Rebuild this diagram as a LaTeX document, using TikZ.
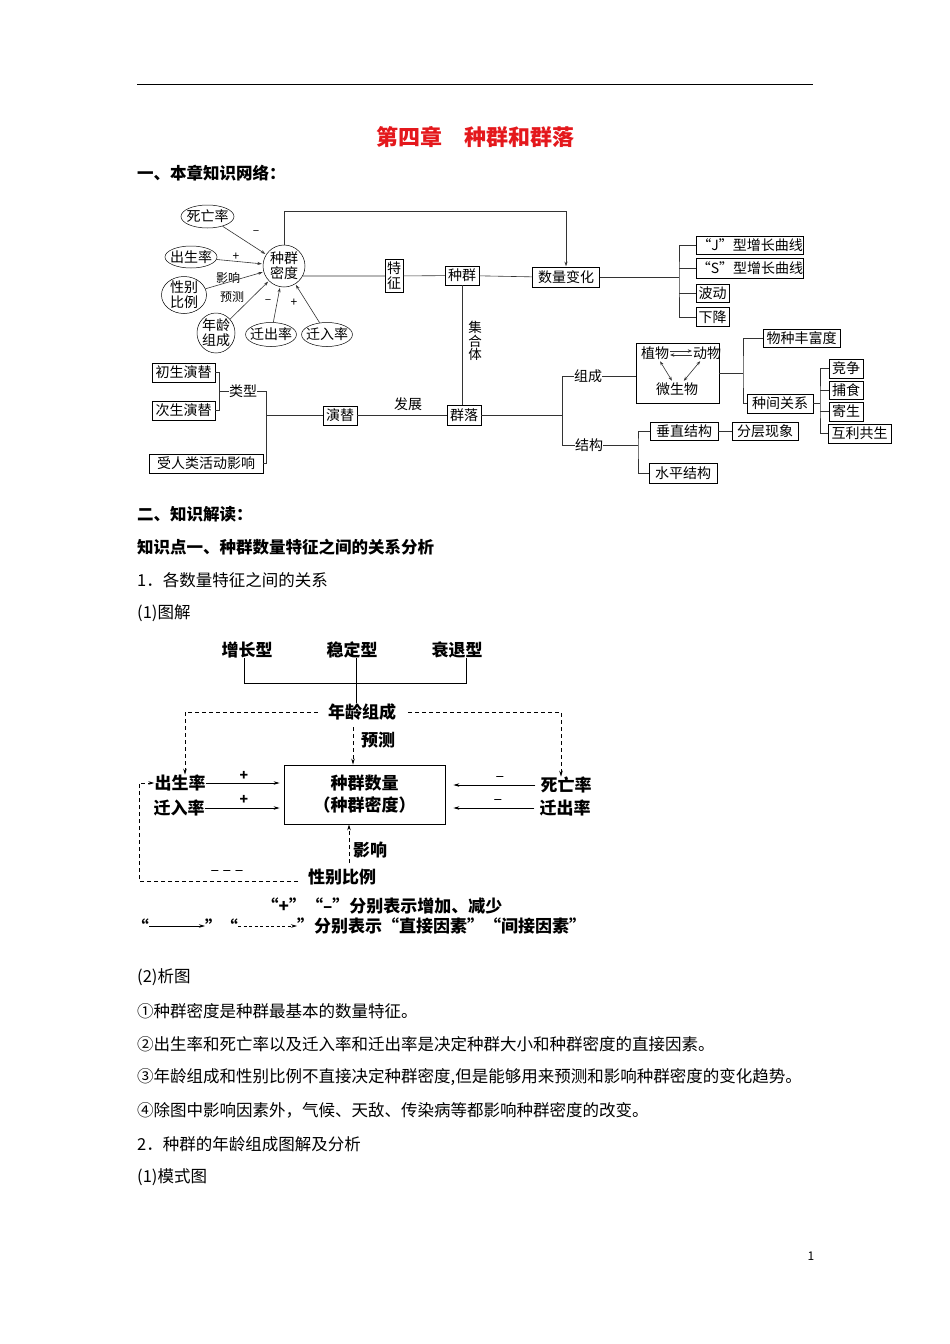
\documentclass[tikz,border=0pt]{standalone}
\usepackage{fontspec}
\setmainfont{Noto Sans CJK SC}
\usetikzlibrary{arrows.meta,shapes.geometric}
\newcommand\fsz[1]{\fontsize{#1}{#1}\selectfont}
\definecolor{titlered}{RGB}{228,24,28}
\begin{document}
\begin{tikzpicture}[x=1pt,y=-1pt,
  ell/.style={draw, ellipse, line width=0.5pt, inner xsep=-3pt, inner ysep=-2pt, font=\fsz{14}},
  bx/.style={draw, rectangle, line width=0.5pt, inner sep=0pt, font=\fsz{14}},
  lab/.style={inner sep=0pt, font=\fsz{14}},
  sm/.style={inner sep=0pt, font=\fsz{12}},
  ln/.style={line width=0.6pt, draw=black!80},
  ar/.style={ln, -{Stealth[length=4.5pt,width=3pt]}, shorten >=1pt},
  dar/.style={ln, {Stealth[length=4pt,width=3pt]}-{Stealth[length=4pt,width=3pt]}, shorten <=2pt, shorten >=2pt},
  para/.style={anchor=west, inner sep=0pt, font=\fsz{16.5}},
  head/.style={anchor=west, inner sep=0pt, font=\fsz{16.5}\bfseries},
  t2/.style={inner sep=0pt, font=\fsz{17}\bfseries},
  l2/.style={line width=0.8pt},
  a2/.style={l2, -{Stealth[length=6pt,width=3.5pt]}},
  d2/.style={l2, dash pattern=on 4pt off 3pt},
  da2/.style={d2, -{Stealth[length=6pt,width=3.5pt]}},
]
\useasboundingbox (0,0) rectangle (950,1344);
\fill[white] (0,0) rectangle (950,1344);
\draw[line width=0.8pt] (137,84) -- (813,84);
\node[inner sep=0pt, font=\fsz{22}\bfseries, text=titlered] (title) at (475.5,137) {第四章\hspace{1em}种群和群落};
\node[head] (h1) at (137,173) {一、本章知识网络：};

% ---------- top knowledge network ----------
\node[ell, minimum width=53, minimum height=23] (sw) at (207.5,216.5) {死亡率};
\node[ell, minimum width=52, minimum height=22] (csr) at (191,257) {出生率};
\node[ell, minimum width=45, minimum height=37, align=center, font=\fontsize{14}{15}\selectfont] (xb) at (184,295) {性别\\比例};
\node[ell, minimum width=38, minimum height=40, align=center, font=\fontsize{14}{15}\selectfont] (nl) at (216,333) {年龄\\组成};
\node[ell, minimum width=49, minimum height=24] (qc) at (271,334.5) {迁出率};
\node[ell, minimum width=49, minimum height=24] (qr) at (327,334.5) {迁入率};
\node[draw, circle, line width=0.5pt, inner sep=-1pt, minimum size=42, align=center, font=\fontsize{14}{15}\selectfont] (md) at (284,266) {种群\\密度};
\draw[ar] (sw) -- (md);
\draw[ar] (csr) -- (md);
\draw[ar] (xb) -- (md);
\draw[ar] (nl) -- (md);
\draw[ar] (qc) -- (md);
\draw[ar] (qr) -- (md);
\node[sm] (lm1) at (256,233) {–};
\node[sm] (lp1) at (236,257) {+};
\node[sm] (lyx) at (228,278) {影响};
\node[sm] (lyc) at (232,297) {预测};
\node[sm] (lm2) at (268,302) {–};
\node[sm] (lp2) at (294,303) {+};

\node[bx, minimum width=18, minimum height=33, align=center, font=\fontsize{14}{15}\selectfont] (tz) at (394,276) {特\\征};
\node[bx, minimum width=34, minimum height=19] (zq) at (462,275.5) {种群};
\node[bx, minimum width=67, minimum height=20] (sl) at (566,277.5) {数量变化};
\draw[ln] (md.-28) -- (tz);
\draw[ln] (tz) -- (zq);
\draw[ln] (zq) -- (sl);
\draw[ar] (md.north) -- ++(0,-33) -| (sl.north);

\node[bx, minimum width=107, minimum height=18] (jx) at (750,245.5) {“J”型增长曲线};
\node[bx, minimum width=107, minimum height=20] (sx) at (750,268.5) {“S”型增长曲线};
\node[bx, minimum width=33, minimum height=18] (bd) at (712.5,293) {波动};
\node[bx, minimum width=33, minimum height=19] (xj) at (712.5,317) {下降};
\coordinate (b1) at (679,277.5);
\draw[ln] (sl) -- (b1);
\draw[ln] (jx.west) -| (b1) |- (xj.west);
\draw[ln] (b1 |- sx.west) -- (sx.west);
\draw[ln] (b1 |- bd.west) -- (bd.west);

\node[lab, align=center, font=\fontsize{13.5}{13.5}\selectfont] (jht) at (475,341) {集\\合\\体};
\node[bx, minimum width=34, minimum height=20] (ql) at (464,415.5) {群落};
\coordinate (vz) at (462,300);
\draw[ln] (vz |- zq.south) -- (vz |- ql.north);
\node[bx, minimum width=34, minimum height=19] (yt) at (340,415.5) {演替};
\draw[ln] (yt) -- (ql);
\node[lab] (fz) at (408,404) {发展};
\node[bx, minimum width=63, minimum height=19] (cs1) at (183.5,372.5) {初生演替};
\node[bx, minimum width=63, minimum height=19] (cs2) at (183.5,410.5) {次生演替};
\node[bx, minimum width=114, minimum height=19] (sr) at (206,463.5) {受人类活动影响};
\draw[ln] (cs1.east) -- ++(4,0) |- (cs2.east);
\node[lab] (lx) at (243,391) {类型};
\coordinate (lb) at (219,391);
\draw[ln] (lb) -- (lx.west);
\coordinate (v1) at (266,391);
\draw[ln] (lx.east) -- (v1) -- (v1 |- sr.east) -- (sr.east);
\draw[ln] (v1 |- yt.west) -- (yt.west);

\coordinate (rb) at (562,415.5);
\draw[ln] (ql) -- (rb);
\node[lab] (zc) at (588,376) {组成};
\node[lab] (jg) at (589,445) {结构};
\draw[ln] (zc.west) -- (zc.west -| rb) -- (jg.west -| rb) -- (jg.west);
\node[bx, minimum width=83, minimum height=60] (zcb) at (677.5,373) {};
\draw[ln] (zc.east) -- (zc.east -| zcb.west);
\node[lab] (zw) at (655,353) {植物};
\node[lab] (dw) at (707,353) {动物};
\node[lab] (ws) at (677,389) {微生物};
\draw[ln, -{Stealth[length=4pt,width=3.5pt]}, shorten <=1pt, shorten >=1pt] ([yshift=2pt]zw.east) -- ([yshift=2pt]dw.west);
\draw[ln, {Stealth[length=4pt,width=3.5pt]}-, shorten <=1pt, shorten >=1pt] ([yshift=-2pt]zw.east) -- ([yshift=-2pt]dw.west);
\draw[dar] (zw) -- (ws);
\draw[dar] (dw) -- (ws);
\coordinate (rb2) at (743,373);
\draw[ln] (zcb.east) -- (rb2);
\node[bx, minimum width=77, minimum height=18] (wz) at (801.5,338) {物种丰富度};
\node[bx, minimum width=66, minimum height=19] (zj) at (780,403.5) {种间关系};
\draw[ln] (wz.west) -| (rb2) |- (zj.west);
\coordinate (rb3) at (820,403.5);
\draw[ln] (zj.east) -- (rb3);
\node[bx, minimum width=34, minimum height=19] (jz) at (846,368.5) {竞争};
\node[bx, minimum width=34, minimum height=18] (bs) at (846,390) {捕食};
\node[bx, minimum width=34, minimum height=19] (jsh) at (846,411.5) {寄生};
\node[bx, minimum width=63, minimum height=19] (hl) at (859.5,433.5) {互利共生};
\draw[ln] (jz.west) -| (rb3) |- (hl.west);
\draw[ln] (rb3 |- bs.west) -- (bs.west);
\draw[ln] (rb3 |- jsh.west) -- (jsh.west);
\coordinate (rb4) at (638,445);
\draw[ln] (jg.east) -- (rb4);
\node[bx, minimum width=68, minimum height=18] (cz) at (684,431) {垂直结构};
\node[bx, minimum width=66, minimum height=18] (fc) at (765,431) {分层现象};
\node[bx, minimum width=68, minimum height=20] (sp) at (683,473) {水平结构};
\draw[ln] (cz.west) -| (rb4) |- (sp.west);
\draw[ln] (cz) -- (fc);

% ---------- text ----------
\node[head] (h2) at (137,514) {二、知识解读：};
\node[head] (h3) at (137,547) {知识点一、种群数量特征之间的关系分析};
\node[para] (p1) at (137,580) {1．各数量特征之间的关系};
\node[para] (p2) at (137,613) {(1)图解};

% ---------- second diagram ----------
\node[t2] (zz) at (247,650) {增长型};
\node[t2] (wd) at (352,650) {稳定型};
\node[t2] (sh) at (457,650) {衰退型};
\coordinate (bl) at (244,683);
\coordinate (br) at (466,683);
\coordinate (bm) at (356,683);
\node[t2] (nlz) at (362,712) {年龄组成};
\draw[l2] (bl |- zz.south) -- (bl) -- (br) -- (br |- sh.south);
\draw[l2] (bm |- wd.south) -- (bm |- nlz.north);
\coordinate (dl) at (185,712);
\coordinate (dr) at (561,712);
\node[t2] (csl) at (180,783) {出生率};
\node[t2] (qrl) at (179,808) {迁入率};
\node[t2] (swl) at (566,785) {死亡率};
\node[t2] (qcl) at (565,808) {迁出率};
\draw[da2] ([xshift=-10pt]nlz.west) -- (dl) -- (dl |- csl.north);
\draw[da2] ([xshift=12pt]nlz.east) -- (dr) -- (dr |- swl.north);
\node[draw, line width=0.8pt, inner sep=0pt, minimum width=161, minimum height=59, align=center, font=\fontsize{17}{22}\bfseries\selectfont] (zs) at (364.5,794.5) {种群数量\\（种群密度）};
\coordinate (pc) at (353,727);
\draw[da2] (pc) -- (pc |- zs.north);
\node[t2] (yc) at (378,740) {预测};
\draw[a2, shorten >=4pt] (csl.east) -- (csl.east -| zs.west);
\draw[a2, shorten >=4pt] (qrl.east) -- (qrl.east -| zs.west);
\node[inner sep=0pt, font=\fsz{14}\bfseries] (pl1) at (244,776) {+};
\node[inner sep=0pt, font=\fsz{14}\bfseries] (pl2) at (244,800) {+};
\draw[a2, shorten <=5pt, shorten >=8pt] (swl.west) -- (swl.west -| zs.east);
\draw[a2, shorten <=5pt, shorten >=8pt] (qcl.west) -- (qcl.west -| zs.east);
\node[inner sep=0pt, font=\fsz{16}] (mn1) at (500,779) {–};
\node[inner sep=0pt, font=\fsz{16}] (mn2) at (498,802) {–};
\node[t2] (xbl) at (342,877) {性别比例};
\coordinate (xs) at (298,881);
\coordinate (lp) at (139,881);
\draw[da2] (xs) -- (lp) -- (lp |- csl.west) -- (csl.west);
\node[inner sep=0pt, font=\fsz{16}] (mm) at (227,873) {– – –};
\coordinate (yxc) at (349,863);
\draw[da2] (yxc) -- (yxc |- zs.south);
\node[t2] (yxl) at (370,850) {影响};
\node[t2] (lg1) at (382,906) {“+”“–”分别表示增加、减少};
\node[t2, anchor=east] (q1) at (149,926) {“};
\node[t2, anchor=west] (q2) at (205,926) {”};
\draw[a2] (q1.east) -- (q2.west);
\node[t2, anchor=east] (q3) at (238,926) {“};
\node[t2, anchor=west] (lg2) at (297,926) {”分别表示“直接因素”“间接因素”};
\draw[da2, dash pattern=on 3pt off 2.5pt] (q3.east) -- (lg2.west);

% ---------- text ----------
\node[para] (p3) at (137,977) {(2)析图};
\node[para] (p4) at (137,1011) {①种群密度是种群最基本的数量特征。};
\node[para] (p5) at (137,1044) {②出生率和死亡率以及迁入率和迁出率是决定种群大小和种群密度的直接因素。};
\node[para] (p6) at (137,1077) {③年龄组成和性别比例不直接决定种群密度,但是能够用来预测和影响种群密度的变化趋势。};
\node[para] (p7) at (137,1110) {④除图中影响因素外，气候、天敌、传染病等都影响种群密度的改变。};
\node[para] (p8) at (137,1144) {2．种群的年龄组成图解及分析};
\node[para] (p9) at (137,1177) {(1)模式图};
\node[inner sep=0pt, font=\fsz{12}] (pg) at (811,1256) {1};
\end{tikzpicture}
\end{document}
